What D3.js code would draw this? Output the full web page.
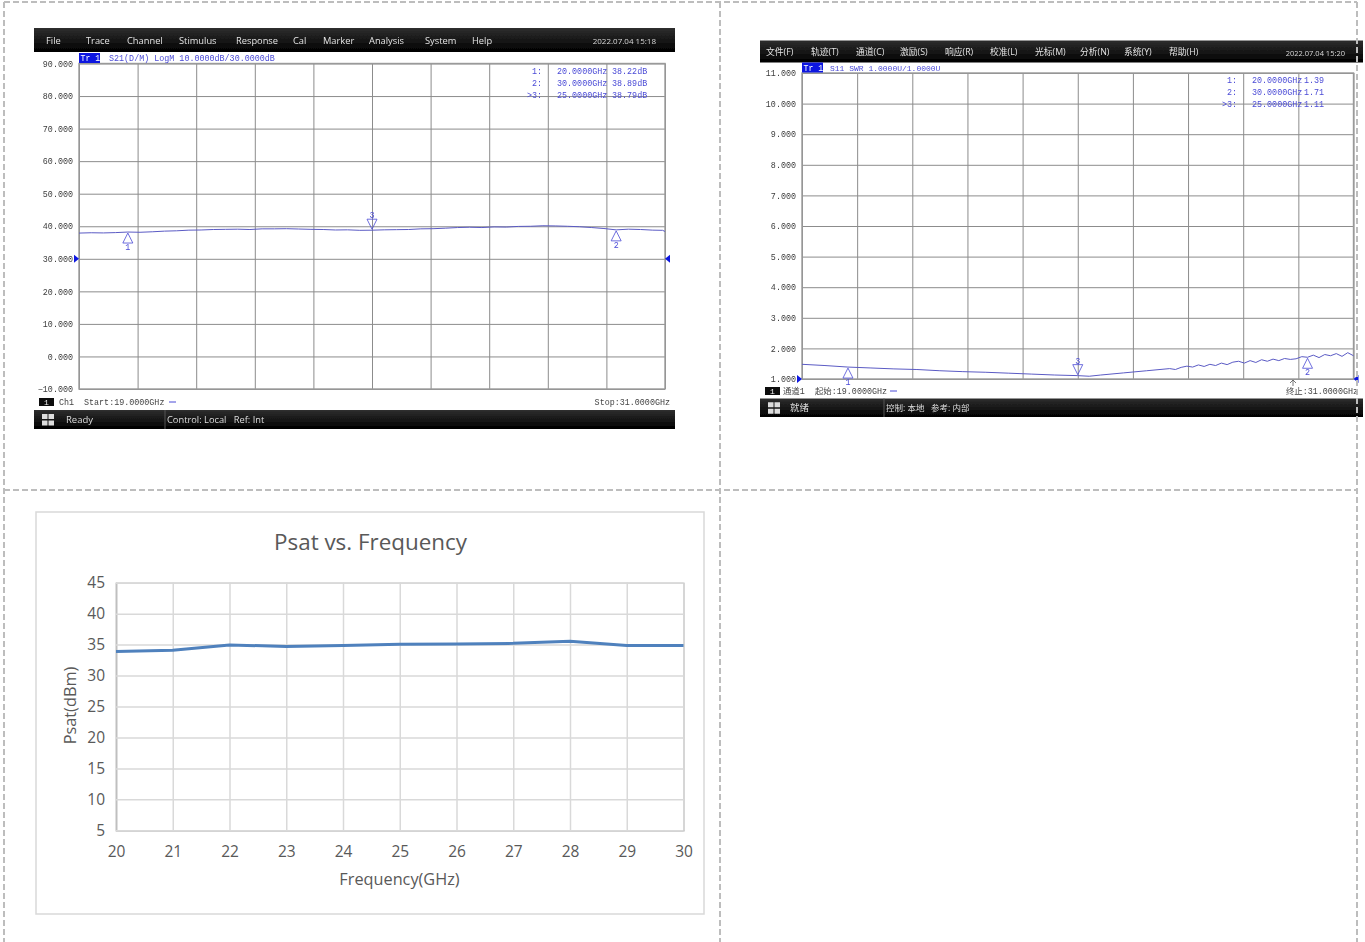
<!DOCTYPE html>
<html><head><meta charset="utf-8">
<script src="https://cdn.jsdelivr.net/npm/d3@7"></script>
<style>html,body{margin:0;padding:0;background:#fff;overflow:hidden}svg{display:block}text{white-space:pre}</style>
</head><body><svg id="c" width="1365" height="942"></svg>
<script>
// ---- data ----
const s21Freq=[19,19.25,19.5,19.75,20,20.25,20.5,20.75,21,21.25,21.5,21.75,22,22.25,22.5,22.75,23,23.25,23.5,23.75,24,24.25,24.5,24.75,25,25.25,25.5,25.75,26,26.25,26.5,26.75,27,27.25,27.5,27.75,28,28.25,28.5,28.75,29,29.25,29.5,29.75,30,30.25,30.5,30.75,30.95,31];
const s21Vals=[37.9,38.0,37.95,38.05,38.22,38.15,38.3,38.5,38.6,38.8,38.85,39.0,39.05,39.1,39.0,39.2,39.2,39.25,39.15,39.05,39.0,38.85,38.9,38.75,38.79,38.9,38.95,39.0,39.2,39.25,39.4,39.6,39.7,39.6,39.8,39.75,39.95,40.0,40.15,40.1,40.0,39.85,39.6,39.3,38.89,39.1,39.0,38.8,38.75,38.4];
const swrFreq=[19,19.5,20,20.5,21,21.5,22,22.5,23,23.5,24,24.5,25,25.25,25.5,26,26.5,27,27.125,27.25,27.375,27.5,27.625,27.75,27.875,28,28.125,28.25,28.375,28.5,28.625,28.75,28.875,29,29.125,29.25,29.375,29.5,29.625,29.75,29.875,30,30.125,30.25,30.375,30.5,30.625,30.75,30.875,31];
const swrVals=[1.48,1.44,1.39,1.36,1.33,1.31,1.27,1.24,1.22,1.19,1.16,1.13,1.11,1.09,1.13,1.2,1.27,1.34,1.31,1.38,1.42,1.39,1.46,1.41,1.48,1.44,1.52,1.47,1.55,1.58,1.52,1.6,1.54,1.63,1.58,1.65,1.6,1.67,1.64,1.66,1.73,1.71,1.78,1.7,1.8,1.76,1.83,1.74,1.86,1.76];
const psatFreq=[20,21,22,23,24,25,26,27,28,29,30];
const psatVals=[33.9,34.1,34.95,34.7,34.85,35.05,35.1,35.2,35.55,34.85,34.85];
const s21YTicks=[90,80,70,60,50,40,30,20,10,0,-10];
const swrYTicks=[11,10,9,8,7,6,5,4,3,2,1];
const psatYTicks=[5,10,15,20,25,30,35,40,45];
const menu1=["File","Trace","Channel","Stimulus","Response","Cal","Marker","Analysis","System","Help"];
const menu2=["文件(F)","轨迹(T)","通道(C)","激励(S)","响应(R)","校准(L)","光标(M)","分析(N)","系统(Y)","帮助(H)"];
const markers1=[{n:"1",f:20,v:38.22},{n:"2",f:30,v:38.89},{n:"3",f:25,v:38.79}];
const markers2=[{n:"1",f:20,v:1.39},{n:"2",f:30,v:1.71},{n:"3",f:25,v:1.11}];
const readout1=[["1:","20.0000GHz","38.22dB"],["2:","30.0000GHz","38.89dB"],[">3:","25.0000GHz","38.79dB"]];
const readout2=[["1:","20.0000GHz","1.39"],["2:","30.0000GHz","1.71"],[">3:","25.0000GHz","1.11"]];
// ---- layout ----
const menuX1=[46,86,127,179,236,293,323,369,425,472];
const menuX2=[766,811,856,900,945,990,1035,1080,1124,1169];
const svg=d3.select("#c");
const MONO="'Liberation Mono','DejaVu Sans Mono',monospace";
const UI="'Open Sans','Noto Sans','Noto Sans CJK SC',sans-serif";
const BLUE="#4a4ad6", GRID="#8c8c8c";
const defs=svg.append("defs");
const g=defs.append("linearGradient").attr("id","hdr").attr("x1",0).attr("x2",0).attr("y1",0).attr("y2",1);
g.append("stop").attr("offset",0).attr("stop-color","#2e2e2e");
g.append("stop").attr("offset",1).attr("stop-color","#000");
defs.append("filter").attr("id","soft").attr("x",0).attr("y",0).attr("width",1).attr("height",1)
  .append("feGaussianBlur").attr("stdDeviation",0.3);

function analyzer(o){
  const G=svg.append("g").attr("filter","url(#soft)");
  G.append("rect").attr("x",o.hl).attr("y",o.ht).attr("width",o.hr-o.hl).attr("height",o.st+o.sh-o.ht).attr("fill","#fff");
  const x=d3.scaleLinear().domain([19,31]).range([o.l,o.r]);
  const y=d3.scaleLinear().domain(o.yd).range([o.b,o.t]);
  // header
  G.append("rect").attr("x",o.hl).attr("y",o.ht).attr("width",o.hr-o.hl).attr("height",o.hh).attr("fill","url(#hdr)");
  G.selectAll(".m").data(o.menu).join("text").attr("x",(d,i)=>o.menuX[i]).attr("y",o.ht+o.hh/2+3.5)
    .text(d=>d).attr("fill","#e4e4e4").attr("font-family",UI).attr("font-size",o.menuSize);
  G.append("text").attr("x",o.dateX).attr("y",o.ht+o.hh/2+4).attr("text-anchor","end").text(o.date)
    .attr("fill","#d8d8d8").attr("font-family",UI).attr("font-size",o.dateSize);
  // grid via axes
  const xt=d3.range(0,11).map(i=>19+i*1.2);
  const ax=G.append("g").attr("transform",`translate(0,${o.b})`)
    .call(d3.axisBottom(x).tickValues(xt).tickSize(o.t-o.b).tickFormat(""));
  const ay=G.append("g").attr("transform",`translate(${o.l},0)`)
    .call(d3.axisLeft(y).tickValues(o.yt).tickSize(o.l-o.r).tickPadding(6).tickFormat(d3.format(".3f")));
  [ax,ay].forEach(a=>{a.select(".domain").remove();a.selectAll("line").attr("stroke",GRID).attr("stroke-width",1);});
  ay.selectAll("text").attr("font-family",MONO).attr("font-size",8.4).attr("fill","#3c3c3c");
  G.append("rect").attr("x",o.l).attr("y",o.t).attr("width",o.r-o.l).attr("height",o.b-o.t)
    .attr("fill","none").attr("stroke","#9a9a9a").attr("stroke-width",1.4);
  // title
  G.append("rect").attr("x",o.l).attr("y",o.t-10.5).attr("width",21).attr("height",10).attr("fill","#0a16e0");
  G.append("text").attr("x",o.l+1.5).attr("y",o.t-2.5).text("Tr 1").attr("fill","#fff").attr("font-family",MONO).attr("font-size",8.2);
  G.append("text").attr("x",o.l+o.titleDx).attr("y",o.t-2.5).text(o.title).attr("fill",BLUE).attr("font-family",MONO).attr("font-size",o.titleSize);
  // readout
  o.readout.forEach((r,i)=>{
    const yy=o.t+o.roy+i*12;
    r.forEach((s,j)=>G.append("text").attr("x",o.rox[j]).attr("y",yy).text(s)
      .attr("text-anchor",j==0?"end":"start").attr("fill",BLUE).attr("font-family",MONO).attr("font-size",8.4));
  });
  // trace
  G.append("path").attr("d",d3.line().x((d,i)=>x(o.fx[i])).y(d=>y(d))(o.vals))
    .attr("fill","none").attr("stroke","#5a5ac4").attr("stroke-width",1);
  // markers
  o.markers.forEach(m=>{
    const mx=x(m.f),my=y(m.v);
    const up=m.n!=="3";
    const a=up?my+1:my-1, bb=up?my+11:my-11;
    G.append("path").attr("d",`M${mx},${a}L${mx-5},${bb}L${mx+5},${bb}Z`).attr("fill","none").attr("stroke",BLUE).attr("stroke-width",.8);
    G.append("text").attr("x",mx).attr("y",up?my+18:my-12).attr("text-anchor","middle").text(m.n)
      .attr("fill",BLUE).attr("font-family",MONO).attr("font-size",8.4);
  });
  // ref arrows
  const ry=y(o.ref);
  G.append("path").attr("d",`M${o.l-5},${ry-4}L${o.l},${ry}L${o.l-5},${ry+4}Z`).attr("fill","#0a16e0");
  G.append("path").attr("d",`M${o.r+5},${ry-4}L${o.r},${ry}L${o.r+5},${ry+4}Z`).attr("fill","#0a16e0");
  // channel strip
  const cy=o.b+o.chy;
  G.append("rect").attr("x",o.hl+o.chi).attr("y",cy-7).attr("width",15).attr("height",8).attr("fill","#111");
  G.append("text").attr("x",o.hl+o.chi+7.5).attr("y",cy).attr("text-anchor","middle").text("1").attr("fill","#eee").attr("font-family",MONO).attr("font-size",8);
  G.append("text").attr("x",o.chX).attr("y",cy).text(o.ch).attr("fill","#444").attr("font-family",o.chFont).attr("font-size",8.4);
  G.append("text").attr("x",o.startX).attr("y",cy).text(o.start).attr("fill","#444").attr("font-family",o.chFont).attr("font-size",8.4);
  G.append("line").attr("x1",o.dashX).attr("x2",o.dashX+7).attr("y1",cy-3).attr("y2",cy-3).attr("stroke",BLUE);
  G.append("text").attr("x",o.stopX).attr("y",cy).attr("text-anchor","end").text(o.stop).attr("fill","#444").attr("font-family",o.chFont).attr("font-size",8.4);
  // status bar
  G.append("rect").attr("x",o.hl).attr("y",o.st).attr("width",o.hr-o.hl).attr("height",o.sh).attr("fill","url(#hdr)");
  const ix=o.hl+8, iy=o.st+o.sh/2-5.5;
  [[0,0],[6.5,0],[0,6.5],[6.5,6.5]].forEach(p=>G.append("rect").attr("x",ix+p[0]).attr("y",iy+p[1]).attr("width",5.5).attr("height",5).attr("fill","#ddd"));
  G.append("text").attr("x",o.readyX).attr("y",o.st+o.sh/2+3.5).text(o.ready).attr("fill","#ddd").attr("font-family",UI).attr("font-size",9.5);
  G.append("line").attr("x1",o.sepX).attr("x2",o.sepX).attr("y1",o.st).attr("y2",o.st+o.sh).attr("stroke","#555");
  G.append("text").attr("x",o.sepX+2).attr("y",o.st+o.sh/2+3.5).text(o.ctrl).attr("fill","#ddd").attr("font-family",UI).attr("font-size",o.ctrlSize);
  return G;
}
analyzer({l:79,r:665,t:63.5,b:389,yd:[-10,90],yt:s21YTicks,ref:30,
  hl:34,hr:675,ht:28,hh:24,menu:menu1,menuX:menuX1,menuSize:9.3,dateX:656,dateSize:8,date:"2022.07.04 15:18",
  title:"S21(D/M) LogM 10.0000dB/30.0000dB",titleDx:30,titleSize:8.4,readout:readout1,roy:10.5,rox:[542,557,612],
  fx:s21Freq,vals:s21Vals,markers:markers1,chy:16,chi:5,chX:59,ch:"Ch1",startX:84,start:"Start:19.0000GHz",dashX:169,
  stopX:670,stop:"Stop:31.0000GHz",chFont:MONO,st:410,sh:19,ready:"Ready",readyX:66,sepX:165,ctrl:"Control: Local   Ref: Int",ctrlSize:9.3});
const p2=analyzer({l:802,r:1353.5,t:73,b:379,yd:[1,11],yt:swrYTicks,ref:1,
  hl:760,hr:1363,ht:40.5,hh:22,menu:menu2,menuX:menuX2,menuSize:8.8,dateX:1345,dateSize:7.5,date:"2022.07.04 15:20",
  title:"S11 SWR 1.0000U/1.0000U",titleDx:28,titleSize:8,readout:readout2,roy:9.5,rox:[1237,1252,1304],
  fx:swrFreq,vals:swrVals,markers:markers2,chy:15,chi:5,chX:783,ch:"通道1",startX:815,start:"起始:19.0000GHz",dashX:890,
  stopX:1358,stop:"终止:31.0000GHz",chFont:"'Liberation Mono','Noto Sans CJK SC',monospace",st:398.5,sh:18.5,ready:"就绪",readyX:790,sepX:884,ctrl:"控制: 本地   参考: 内部",ctrlSize:8.5});
// small cursor mark under the second plot
p2.append("path").attr("d","M1293,380V386M1290,383L1293,380L1296,383").attr("fill","none").attr("stroke","#555").attr("stroke-width",.8);

// Psat panel
const P=svg.append("g");
P.append("rect").attr("x",36).attr("y",512).attr("width",668).attr("height",402).attr("fill","#fff").attr("stroke","#d9d9d9").attr("stroke-width",1.5);
const px=d3.scaleLinear().domain([20,30]).range([116,683.5]);
const py=d3.scaleLinear().domain([5,45]).range([830.3,582.7]);
const CF="'Open Sans','Noto Sans',sans-serif";
const pa=P.append("g").attr("transform","translate(0,830.3)").call(d3.axisBottom(px).tickValues(psatFreq).tickSize(-247.6).tickPadding(16).tickFormat(d3.format("d")));
const pb=P.append("g").attr("transform","translate(116,0)").call(d3.axisLeft(py).tickValues(psatYTicks).tickSize(-567.5).tickPadding(11).tickFormat(d3.format("d")));
[pa,pb].forEach(a=>{a.select(".domain").attr("stroke","#bfbfbf").attr("stroke-width",1.5);a.selectAll("line").attr("stroke","#d9d9d9").attr("stroke-width",1.5);
  a.selectAll("text").attr("font-family",CF).attr("font-size",15.5).attr("fill","#595959");});
P.append("path").attr("d",d3.line().x((d,i)=>px(psatFreq[i])).y(d=>py(d))(psatVals)).attr("fill","none").attr("stroke","#4f81bd").attr("stroke-width",3);
P.append("text").attr("x",370.5).attr("y",550).attr("text-anchor","middle").text("Psat vs. Frequency").attr("font-family",CF).attr("font-size",22.4).attr("fill","#595959");
P.append("text").attr("x",399.5).attr("y",885).attr("text-anchor","middle").text("Frequency(GHz)").attr("font-family",CF).attr("font-size",16.3).attr("fill","#595959");
P.append("text").attr("transform","translate(76,705.5) rotate(-90)").attr("text-anchor","middle").text("Psat(dBm)").attr("font-family",CF).attr("font-size",16.3).attr("fill","#595959");

// page table dashes, above the panels
const dash=svg.append("g").attr("stroke","#bdbdbd").attr("stroke-width",2).attr("stroke-dasharray","6 3").attr("fill","none");
[[4,2,4,942],[720,2,720,942],[1357,2,1357,942],[4,2,1357,2],[4,490,1357,490]].forEach(d=>
  dash.append("line").attr("x1",d[0]).attr("y1",d[1]).attr("x2",d[2]).attr("y2",d[3]));
</script></body></html>
